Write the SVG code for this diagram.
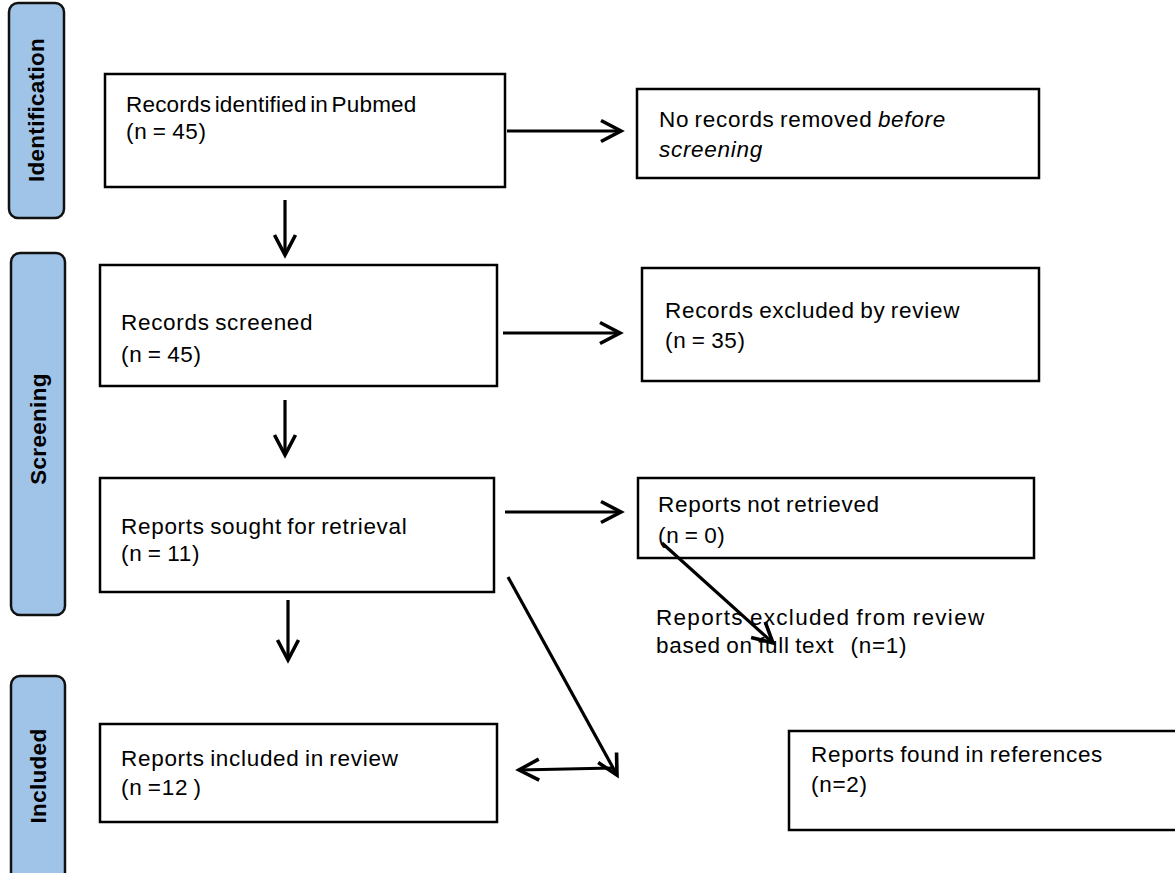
<svg xmlns="http://www.w3.org/2000/svg" width="1175" height="873" viewBox="0 0 1175 873">
<defs>
<marker id="ah" markerUnits="userSpaceOnUse" markerWidth="32" markerHeight="32" viewBox="-26 -16 32 32" refX="0" refY="0" orient="auto">
<path d="M-20,-10.5 L0,0 L-20,10.5" fill="none" stroke="#000" stroke-width="3.6" stroke-linejoin="miter"/>
</marker>
</defs>
<style>
.side{fill:#a0c3e8;stroke:#111;stroke-width:2.5}
.st{font-family:"Liberation Sans",Arial,sans-serif;font-weight:bold;font-size:22.5px;letter-spacing:0.3px;fill:#000}
.box{fill:#fff;stroke:#000;stroke-width:2.5}
.t{font-family:"Liberation Sans",Arial,sans-serif;font-size:22.5px;letter-spacing:0.7px;word-spacing:-1.5px;fill:#000}
.c{fill:none;stroke:#000;stroke-width:3.2;marker-end:url(#ah)}
</style>
<rect width="1175" height="873" fill="#fff"/>
<g id="side-identification">
<rect class="side" x="9" y="3" width="55" height="215" rx="9"/>
<text class="st" transform="translate(44,110) rotate(-90)" text-anchor="middle">Identification</text>
</g>
<g id="side-screening">
<rect class="side" x="11" y="253" width="54" height="362" rx="9"/>
<text class="st" transform="translate(46,429) rotate(-90)" text-anchor="middle">Screening</text>
</g>
<g id="side-included">
<rect class="side" x="11" y="676" width="54" height="205" rx="9"/>
<text class="st" transform="translate(46,776) rotate(-90)" text-anchor="middle">Included</text>
</g>
<g id="n-identified">
<rect class="box" x="105" y="74" width="400" height="113"/>
<text class="t" x="126" y="112" style="letter-spacing:0.2px;word-spacing:-3px">Records identified in Pubmed</text>
<text class="t" x="126" y="139">(n = 45)</text>
</g>
<g id="n-removed">
<rect class="box" x="637" y="89" width="402" height="89"/>
<text class="t" x="659" y="127">No records removed <tspan font-style="italic">before</tspan></text>
<text class="t" x="659" y="157" font-style="italic">screening</text>
</g>
<g id="n-screened">
<rect class="box" x="100" y="265" width="397" height="121"/>
<text class="t" x="121" y="330">Records screened</text>
<text class="t" x="121" y="362">(n = 45)</text>
</g>
<g id="n-excluded">
<rect class="box" x="642" y="268" width="397" height="113"/>
<text class="t" x="665" y="318">Records excluded by review</text>
<text class="t" x="665" y="348">(n = 35)</text>
</g>
<g id="n-sought">
<rect class="box" x="100" y="478" width="394" height="114"/>
<text class="t" x="121" y="534">Reports sought for retrieval</text>
<text class="t" x="121" y="561">(n = 11)</text>
</g>
<g id="n-notretrieved">
<rect class="box" x="638" y="478" width="396" height="80"/>
<text class="t" x="658" y="512">Reports not retrieved</text>
<text class="t" x="658" y="543">(n = 0)</text>
</g>
<g id="n-fulltext">
<text class="t" x="656" y="625" style="letter-spacing:1.3px">Reports excluded from review</text>
<text class="t" x="656" y="653" xml:space="preserve">based on full text   (n=1)</text>
</g>
<g id="n-included">
<rect class="box" x="100" y="724" width="397" height="98"/>
<text class="t" x="121" y="766">Reports included in review</text>
<text class="t" x="121" y="795" xml:space="preserve">(n =12 )</text>
</g>
<g id="n-references">
<rect class="box" x="789" y="731" width="400" height="99"/>
<text class="t" x="811" y="762">Reports found in references</text>
<text class="t" x="811" y="792">(n=2)</text>
</g>
<g id="connectors">
<line class="c" x1="507" y1="131" x2="621" y2="131"/>
<line class="c" x1="285" y1="200" x2="285" y2="255"/>
<line class="c" x1="503" y1="333" x2="620" y2="333"/>
<line class="c" x1="285" y1="400" x2="285" y2="455"/>
<line class="c" x1="505" y1="512" x2="621" y2="512"/>
<line class="c" x1="662" y1="543" x2="773" y2="643"/>
<line class="c" x1="288" y1="600" x2="288" y2="660"/>
<line class="c" x1="508" y1="577" x2="617" y2="775"/>
<line class="c" x1="613" y1="768" x2="519" y2="770"/>
</g>
</svg>
